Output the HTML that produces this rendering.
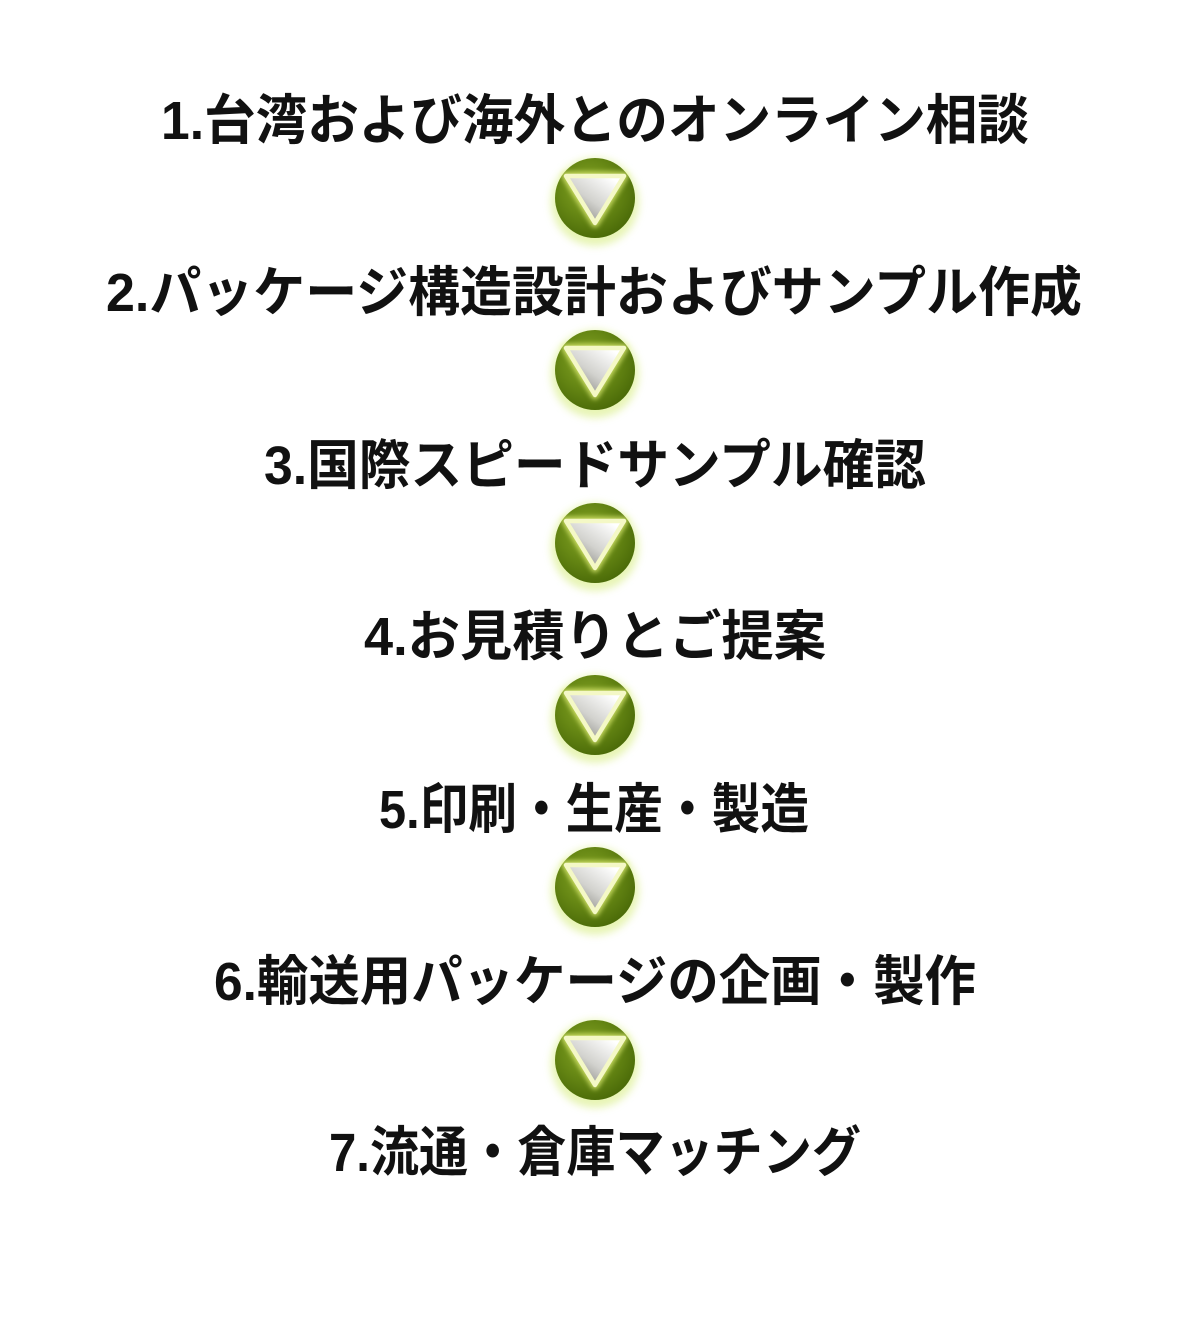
<!DOCTYPE html>
<html><head><meta charset="utf-8"><style>
html,body{margin:0;padding:0;background:#fff;}
svg{display:block;}
text{font-family:"Liberation Sans","Noto Sans CJK JP",sans-serif;font-weight:700;font-size:54px;fill:#111;}
</style></head><body>
<svg width="1200" height="1329" viewBox="0 0 1200 1329" xmlns="http://www.w3.org/2000/svg">
<defs>
<radialGradient id="cg" cx="42%" cy="38%" r="65%">
<stop offset="0" stop-color="#88a828"/>
<stop offset="0.55" stop-color="#668714"/>
<stop offset="1" stop-color="#4a6a08"/>
</radialGradient>
<linearGradient id="tg" x1="0.15" y1="0.9" x2="0.85" y2="0.1">
<stop offset="0" stop-color="#8a8a84"/>
<stop offset="0.45" stop-color="#d2d2ce"/>
<stop offset="1" stop-color="#ffffff"/>
</linearGradient>
<filter id="bl" x="-50%" y="-50%" width="200%" height="200%"><feGaussianBlur stdDeviation="4"/></filter>
<filter id="bl2" x="-50%" y="-50%" width="200%" height="200%"><feGaussianBlur stdDeviation="2.5"/></filter>
<g id="arrow">
<circle cx="0" cy="4" r="44" fill="#d4ec78" opacity="0.55" filter="url(#bl)"/>
<circle cx="0" cy="0" r="40" fill="url(#cg)"/>
<path d="M-29,-22 L29,-22 L0,25 Z" fill="none" stroke="#e6f47a" stroke-width="9" stroke-linejoin="round" opacity="0.7" filter="url(#bl2)"/>
<path d="M-29,-22 L29,-22 L0,25 Z" fill="url(#tg)" stroke="#f4f8c6" stroke-width="4.5" stroke-linejoin="round"/>
</g>
</defs>

<text x="161" y="139" textLength="868" lengthAdjust="spacingAndGlyphs">1.台湾および海外とのオンライン相談</text>
<use href="#arrow" x="595" y="198"/>
<text x="106" y="311" textLength="976" lengthAdjust="spacingAndGlyphs">2.パッケージ構造設計およびサンプル作成</text>
<use href="#arrow" x="595" y="370"/>
<text x="264" y="484" textLength="662" lengthAdjust="spacingAndGlyphs">3.国際スピードサンプル確認</text>
<use href="#arrow" x="595" y="543"/>
<text x="364" y="655" textLength="462" lengthAdjust="spacingAndGlyphs">4.お見積りとご提案</text>
<use href="#arrow" x="595" y="715"/>
<text x="379" y="828" textLength="430" lengthAdjust="spacingAndGlyphs">5.印刷・生産・製造</text>
<use href="#arrow" x="595" y="887"/>
<text x="214" y="1000" textLength="762" lengthAdjust="spacingAndGlyphs">6.輸送用パッケージの企画・製作</text>
<use href="#arrow" x="595" y="1060"/>
<text x="329" y="1171" textLength="532" lengthAdjust="spacingAndGlyphs">7.流通・倉庫マッチング</text>
</svg>
</body></html>
